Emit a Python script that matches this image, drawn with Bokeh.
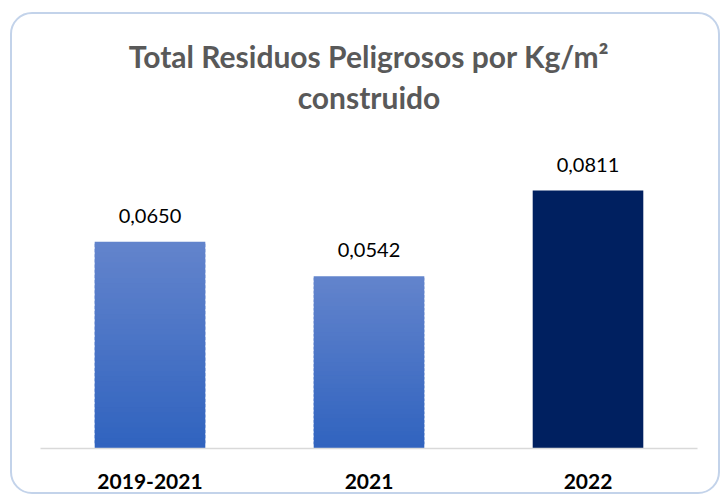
from bokeh.plotting import figure
from bokeh.models import Range1d, Title, ColumnDataSource
from bokeh.core.properties import value
from bokeh.embed import file_html
from bokeh.resources import INLINE

# ---- data ----
categories = ["2019-2021", "2021", "2022"]
values = [0.0650, 0.0542, 0.0811]
value_labels = ["0,0650", "0,0542", "0,0811"]
gradient_bars = [True, True, False]
title_line1 = "Total Residuos Peligrosos por Kg/m²"
title_line2 = "construido"

TOP_COLOR = (0x63, 0x84, 0xCC)
BOTTOM_COLOR = (0x30, 0x63, 0xBF)
DARK = "#002060"
FONT = "Lato"

p = figure(x_range=categories, y_range=Range1d(0, 0.1), width=710, height=482,
           output_backend="svg", toolbar_location=None,
           min_border_left=28, min_border_right=25, min_border_bottom=48, min_border_top=116)
p.margin = (12, 0, 0, 10)
p.styles = {"border": "2px solid #c3d3ea", "border-radius": "22px"}
p.background_fill_alpha = 0
p.border_fill_alpha = 0

# gradient bars built from overlapping slices
N = 40
xs, bots, tops, cols = [], [], [], []
for cat, v, g in zip(categories, values, gradient_bars):
    if g:
        for i in range(N):
            t = (i + 0.5) / N  # 0 bottom -> 1 top
            c = tuple(int(round(BOTTOM_COLOR[k] + (TOP_COLOR[k] - BOTTOM_COLOR[k]) * t)) for k in range(3))
            xs.append(cat)
            bots.append(v * i / N)
            tops.append(min(v, v * (i + 1.6) / N))
            cols.append("#%02x%02x%02x" % c)
    else:
        xs.append(cat)
        bots.append(0)
        tops.append(v)
        cols.append(DARK)

src = ColumnDataSource(dict(x=xs, bottom=bots, top=tops, color=cols))
p.vbar(x="x", bottom="bottom", top="top", width=0.505, fill_color="color", line_color=None, source=src)

lsrc = ColumnDataSource(dict(x=categories, y=values, t=value_labels))
p.text(x="x", y="y", text="t", source=lsrc, text_align="center", text_baseline="middle",
       y_offset=-26, text_font=value(FONT), text_font_size="20px", text_color="#000000")

# title (two lines, centred)
p.title.visible = False
title_kw = dict(align="center", text_font=FONT, text_font_size="30px",
                text_font_style="bold", text_color="#595959")
if "text_align" in Title.properties():
    t = Title(text=title_line1 + "\n" + title_line2, standoff=30, text_line_height=1.16,
              text_align="center", **title_kw)
    p.add_layout(t, "above")
else:
    t2 = Title(text=title_line2, standoff=28, text_line_height=0.9, **title_kw)
    t1 = Title(text=title_line1, standoff=0, text_line_height=0.9, **title_kw)
    p.add_layout(t2, "above")
    p.add_layout(t1, "above")

p.yaxis.visible = False
p.xgrid.visible = False
p.ygrid.visible = False
p.outline_line_color = None
p.xaxis.axis_line_color = "#d9d9d9"
p.xaxis.axis_line_width = 1.5
p.xaxis.major_tick_line_color = None
p.xaxis.minor_tick_line_color = None
p.xaxis.major_label_text_font = FONT
p.xaxis.major_label_text_font_style = "bold"
p.xaxis.major_label_text_font_size = "21px"
p.xaxis.major_label_text_color = "#000000"
p.xaxis.major_label_standoff = 19
p.x_range.range_padding = 0

open("out.html", "w").write(file_html(p, INLINE))
